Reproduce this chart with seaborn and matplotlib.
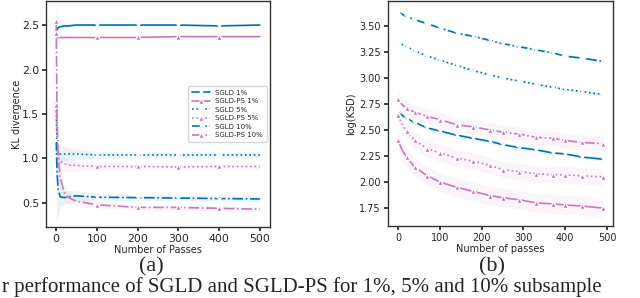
import numpy as np
import pandas as pd
import matplotlib
matplotlib.use("Agg")
import matplotlib.pyplot as plt
import seaborn as sns

# ---- panel (a): KL divergence vs number of passes ----
passes_a = [0, 2, 5, 10, 20, 30, 50, 100, 200, 300, 400, 500]
kl_sgld_1 = [2.42, 2.45, 2.47, 2.48, 2.49, 2.49, 2.50, 2.50, 2.50, 2.50, 2.49, 2.50]
kl_ps_1 = [2.41, 2.37, 2.36, 2.36, 2.36, 2.36, 2.36, 2.36, 2.36, 2.37, 2.37, 2.37]
kl_sgld_5 = [1.68, 1.10, 1.05, 1.05, 1.05, 1.05, 1.05, 1.04, 1.04, 1.04, 1.04, 1.04]
kl_ps_5 = [1.60, 1.10, 1.02, 0.97, 0.94, 0.93, 0.92, 0.91, 0.91, 0.905, 0.91, 0.91]
kl_sgld_10 = [1.21, 0.85, 0.65, 0.57, 0.56, 0.57, 0.58, 0.565, 0.56, 0.555, 0.55, 0.545]
kl_ps_10 = [2.55, 1.50, 1.00, 0.78, 0.62, 0.56, 0.52, 0.48, 0.45, 0.45, 0.44, 0.43]
# band half-widths (std) for panel (a)
kl_sd_sgld_1 = [0.30, 0.20, 0.10, 0.05, 0.03, 0.02, 0.02, 0.01, 0.01, 0.01, 0.01, 0.01]
kl_sd_ps_1 = [0.20, 0.10, 0.05, 0.03, 0.02, 0.02, 0.01, 0.01, 0.01, 0.01, 0.01, 0.01]
kl_sd_sgld_5 = [0.90, 0.25, 0.12, 0.10, 0.08, 0.07, 0.06, 0.04, 0.03, 0.03, 0.03, 0.03]
kl_sd_ps_5 = [0.60, 0.20, 0.12, 0.10, 0.08, 0.07, 0.06, 0.04, 0.03, 0.03, 0.03, 0.03]
kl_sd_sgld_10 = [0.95, 0.50, 0.30, 0.12, 0.08, 0.07, 0.06, 0.04, 0.03, 0.03, 0.03, 0.03]
kl_sd_ps_10 = [0.40, 0.30, 0.20, 0.12, 0.10, 0.08, 0.06, 0.04, 0.03, 0.03, 0.03, 0.03]

# ---- panel (b): log(KSD) vs number of passes ----
passes_b = [0, 10, 20, 40, 70, 100, 140, 180, 220, 250, 290, 330, 370, 400, 440, 490]
ksd_sgld_10 = [3.63, 3.61, 3.59, 3.56, 3.52, 3.48, 3.43, 3.40, 3.36, 3.33, 3.30, 3.27, 3.24, 3.21, 3.19, 3.16]
ksd_sgld_5 = [3.35, 3.32, 3.30, 3.26, 3.21, 3.17, 3.12, 3.07, 3.03, 3.00, 2.97, 2.94, 2.91, 2.89, 2.87, 2.84]
ksd_sgld_1 = [2.69, 2.64, 2.61, 2.57, 2.52, 2.49, 2.45, 2.42, 2.39, 2.36, 2.33, 2.31, 2.28, 2.27, 2.24, 2.22]
ksd_ps_10 = [2.80, 2.74, 2.71, 2.67, 2.63, 2.60, 2.55, 2.53, 2.50, 2.48, 2.46, 2.43, 2.42, 2.40, 2.38, 2.37]
ksd_ps_5 = [2.64, 2.55, 2.49, 2.40, 2.32, 2.28, 2.23, 2.20, 2.16, 2.12, 2.10, 2.08, 2.07, 2.07, 2.06, 2.05]
ksd_ps_1 = [2.40, 2.30, 2.24, 2.14, 2.06, 2.00, 1.95, 1.91, 1.87, 1.85, 1.83, 1.80, 1.79, 1.78, 1.77, 1.75]
ksd_sd = {"sgld_10": 0.015, "sgld_5": 0.015, "sgld_1": 0.02,
          "ps_10": 0.07, "ps_5": 0.08, "ps_1": 0.09}

labels = ["SGLD 1%", "SGLD-PS 1%", "SGLD 5%", "SGLD-PS 5%", "SGLD 10%", "SGLD-PS 10%"]

sns.set_theme(style="ticks")
plt.rcParams["font.family"] = ["DejaVu Sans"]
pal = sns.color_palette("colorblind")
blue, pink = pal[0], pal[4]

fig = plt.figure(figsize=(6.4, 2.98), dpi=100)
ax1 = fig.add_axes([46 / 640, 71 / 298, 224 / 640, 226 / 298])
ax2 = fig.add_axes([388 / 640, 72 / 298, 225 / 640, 225 / 298])

series_a = [
    (kl_sgld_1, kl_sd_sgld_1, blue, "-", "x"),
    (kl_ps_1, kl_sd_ps_1, pink, "-", "^"),
    (kl_sgld_5, kl_sd_sgld_5, blue, ":", "x"),
    (kl_ps_5, kl_sd_ps_5, pink, ":", "^"),
    (kl_sgld_10, kl_sd_sgld_10, blue, "-.", "x"),
    (kl_ps_10, kl_sd_ps_10, pink, "-.", "^"),
]
xa = np.array(passes_a)
for (y, sd, c, ls, m), lab in zip(series_a, labels):
    y = np.array(y)
    sd = np.array(sd)
    ax1.fill_between(xa, y - sd, y + sd, color=c, alpha=0.08, lw=0)
    sns.lineplot(x=xa, y=y, ax=ax1, color=c, linestyle=ls, marker=m,
                 markevery=[0, 7, 8, 9, 10], markersize=4, lw=1.2,
                 mew=1.0, label=lab)

ax1.set_xlim(-25, 525)
ax1.set_ylim(0.23, 2.77)
ax1.set_xticks([0, 100, 200, 300, 400, 500])
ax1.set_yticks([0.5, 1.0, 1.5, 2.0, 2.5])
ax1.set_xlabel("Number of Passes", fontsize=7, labelpad=1)
ax1.set_ylabel("KL divergence", fontsize=7, labelpad=0)
ax1.tick_params(labelsize=7.8, length=3, pad=2)
ax1.legend(loc="center right", fontsize=5, frameon=True, handlelength=2.6,
           borderpad=0.5, labelspacing=0.35, bbox_to_anchor=(1.0, 0.5))

series_b = [
    (ksd_sgld_1, "sgld_1", blue, "-", "x"),
    (ksd_ps_1, "ps_1", pink, "-", "^"),
    (ksd_sgld_5, "sgld_5", blue, ":", "x"),
    (ksd_ps_5, "ps_5", pink, ":", "^"),
    (ksd_sgld_10, "sgld_10", blue, "-.", "x"),
    (ksd_ps_10, "ps_10", pink, "-.", "^"),
]
xb = np.array(passes_b)
mk_b = [0] + list(range(2, len(passes_b)))
for y, key, c, ls, m in series_b:
    y = np.array(y)
    sd = ksd_sd[key]
    ax2.fill_between(xb, y - sd, y + sd, color=c, alpha=0.08, lw=0)
    sns.lineplot(x=xb, y=y, ax=ax2, color=c, linestyle=ls, marker=m,
                 markevery=mk_b, markersize=4, lw=1.2, mew=1.0, legend=False)

ax2.set_xlim(-24.5, 514.5)
ax2.set_ylim(1.578, 3.739)
ax2.set_xticks([0, 100, 200, 300, 400, 500])
ax2.set_yticks([1.75, 2.00, 2.25, 2.50, 2.75, 3.00, 3.25, 3.50])
ax2.set_xlabel("Number of passes", fontsize=7, labelpad=1)
ax2.set_ylabel("log(KSD)", fontsize=7, labelpad=2)
ax2.tick_params(labelsize=7, length=3, pad=2)

for ax in (ax1, ax2):
    for s in ax.spines.values():
        s.set_color("#333333")
        s.set_linewidth(1.0)

serif = ["Liberation Serif", "DejaVu Serif"]
fig.text(151 / 640, 1 - 267 / 298, "(a)", ha="center", va="center",
         fontsize=16, family=serif)
fig.text(492 / 640, 1 - 267 / 298, "(b)", ha="center", va="center",
         fontsize=16, family=serif)
fig.text(0.003, 0.003, "r performance of SGLD and SGLD-PS for 1%, 5% and 10% subsample",
         ha="left", va="bottom", fontsize=15, family=serif)

fig.savefig("out.png", dpi=100)
